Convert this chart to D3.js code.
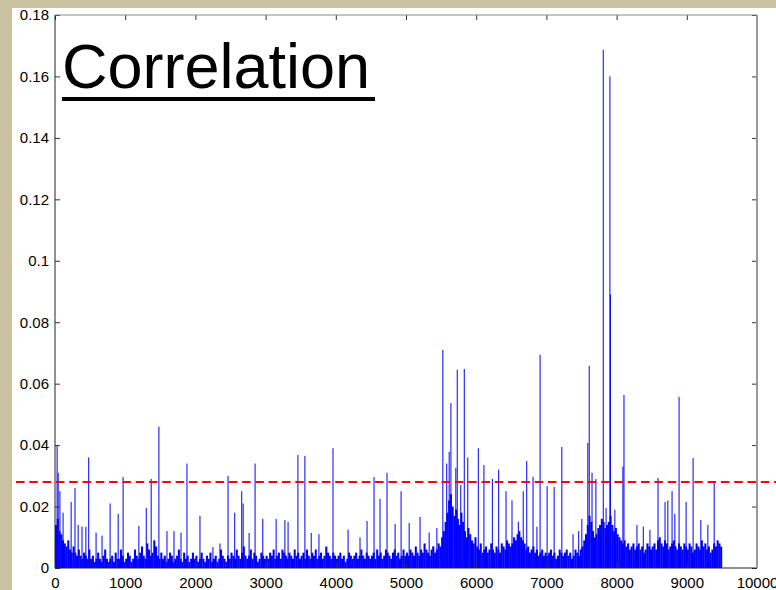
<!DOCTYPE html>
<html><head><meta charset="utf-8">
<script src="https://cdn.jsdelivr.net/npm/d3@7"></script>
<style>html,body{margin:0;padding:0;background:#c9c19f;overflow:hidden}</style>
</head><body>
<script>
// ---- data ----
const titleText = "Correlation";
const xTicks = [0,1000,2000,3000,4000,5000,6000,7000,8000,9000,10000];
const yTicks = [0,0.02,0.04,0.06,0.08,0.1,0.12,0.14,0.16,0.18];
const threshold = 0.028;
const baseStep = 25; // sample spacing of base values (x units)
const baseValues = [
0.014,0.016,0.012,0.011,0.009,0.008,0.007,0.009,0.006,0.005,0.007,0.005,0.004,0.006,0.004,0.003,0.005,0.004,0.003,0.006,
0.003,0.004,0.002,0.003,0.005,0.003,0.002,0.004,0.006,0.003,0.002,0.003,0.004,0.002,0.005,0.003,0.003,0.006,0.004,0.002,
0.003,0.005,0.004,0.002,0.003,0.006,0.004,0.003,0.005,0.007,0.004,0.003,0.008,0.006,0.004,0.005,0.009,0.007,0.004,0.003,
0.005,0.003,0.004,0.002,0.003,0.005,0.004,0.002,0.003,0.004,0.006,0.003,0.002,0.005,0.003,0.004,0.002,0.003,0.005,0.003,
0.004,0.002,0.003,0.005,0.003,0.002,0.004,0.003,0.005,0.002,0.003,0.004,0.002,0.003,0.006,0.004,0.003,0.002,0.004,0.003,
0.005,0.004,0.003,0.006,0.004,0.003,0.005,0.007,0.004,0.003,0.004,0.006,0.003,0.005,0.004,0.002,0.003,0.005,0.004,0.003,
0.004,0.003,0.005,0.004,0.006,0.003,0.004,0.005,0.003,0.006,0.005,0.004,0.003,0.005,0.004,0.003,0.006,0.004,0.005,0.003,
0.004,0.005,0.003,0.006,0.004,0.003,0.005,0.004,0.006,0.003,0.004,0.005,0.003,0.004,0.007,0.005,0.004,0.003,0.005,0.004,
0.003,0.004,0.005,0.003,0.004,0.002,0.003,0.005,0.004,0.003,0.004,0.005,0.003,0.004,0.006,0.004,0.003,0.005,0.004,0.003,
0.004,0.005,0.003,0.006,0.004,0.005,0.003,0.004,0.006,0.005,0.004,0.003,0.005,0.006,0.004,0.005,0.003,0.004,0.006,0.004,
0.005,0.004,0.006,0.005,0.004,0.007,0.005,0.004,0.006,0.005,0.008,0.006,0.005,0.004,0.006,0.007,0.005,0.006,0.008,0.007,
0.010,0.012,0.015,0.018,0.022,0.024,0.020,0.017,0.019,0.016,0.014,0.018,0.015,0.012,0.010,0.013,0.011,0.009,0.008,0.010,
0.007,0.006,0.008,0.005,0.006,0.007,0.005,0.006,0.008,0.006,0.005,0.007,0.006,0.005,0.008,0.007,0.006,0.009,0.008,0.007,
0.008,0.010,0.009,0.011,0.012,0.010,0.009,0.008,0.006,0.007,0.005,0.006,0.007,0.005,0.006,0.004,0.005,0.006,0.004,0.005,
0.004,0.005,0.006,0.004,0.005,0.003,0.004,0.006,0.005,0.004,0.005,0.006,0.004,0.005,0.003,0.004,0.006,0.005,0.004,0.006,
0.007,0.009,0.011,0.014,0.017,0.015,0.012,0.010,0.011,0.013,0.014,0.016,0.015,0.013,0.014,0.015,0.017,0.014,0.012,0.013,
0.011,0.010,0.009,0.008,0.009,0.007,0.008,0.006,0.007,0.008,0.006,0.007,0.008,0.006,0.007,0.005,0.006,0.008,0.007,0.006,
0.007,0.008,0.006,0.009,0.010,0.008,0.007,0.009,0.008,0.006,0.007,0.008,0.009,0.007,0.006,0.008,0.007,0.006,0.008,0.007,
0.006,0.008,0.007,0.005,0.006,0.008,0.007,0.006,0.009,0.007,0.008,0.006,0.007,0.005,0.006,0.008,0.007,0.009,0.008,0.007
];
const spikeX = [30,45,70,115,230,285,330,385,440,480,585,670,785,900,970,1195,1300,1370,1480,1595,1695,1795,1880,2065,2250,2350,
2465,2560,2660,2680,2765,2850,2960,3150,3275,3320,3460,3560,3650,3760,3960,4175,4345,4445,4545,4630,4730,4845,4930,5045,5200,
5330,5385,5440,5525,5580,5615,5640,5710,5730,5780,5830,5880,6030,6110,6230,6320,6425,6510,6600,6670,6720,6810,6865,6910,7010,
7110,7220,7380,7460,7505,7590,7610,7650,7705,7810,7850,7905,7912,7975,8090,8105,8290,8380,8475,8590,8690,8730,8790,8830,8890,
8990,9090,9200,9300,9390];
const spikeY = [0.040,0.031,0.025,0.018,0.0215,0.026,0.014,0.0135,0.0134,0.036,0.0115,0.0105,0.021,0.0176,0.0296,0.0137,0.0195,0.029,0.046,0.012,0.012,0.0115,0.034,0.017,0.0068,0.008,
0.030,0.018,0.025,0.021,0.0114,0.034,0.016,0.016,0.0156,0.015,0.0368,0.0365,0.0114,0.011,0.039,0.0125,0.010,0.0153,0.0296,0.0225,0.031,0.0143,0.025,0.0147,0.0166,
0.0115,0.007,0.013,0.071,0.034,0.0378,0.0537,0.0326,0.0645,0.027,0.0648,0.036,0.039,0.0335,0.029,0.032,0.025,0.022,0.015,0.025,0.0348,0.0297,0.0134,0.0694,0.0267,
0.0264,0.0394,0.011,0.012,0.016,0.0407,0.0658,0.031,0.029,0.1687,0.0195,0.160,0.089,0.019,0.033,0.0563,0.014,0.0135,0.0124,0.0293,0.0215,0.022,0.025,0.0176,0.0557,
0.0215,0.0358,0.0156,0.014,0.0283];

// ---- drawing ----
(function () {
const W = 776, H = 590;
const svg = d3.select("body").append("svg").attr("width", W).attr("height", H)
  .style("display","block").style("font-family","Arial, 'Liberation Sans', sans-serif");
svg.append("rect").attr("width", W).attr("height", H).attr("fill", "#c9c19f");
svg.append("rect").attr("x", 12).attr("y", 8).attr("width", W - 12).attr("height", H - 8).attr("fill", "#ffffff");

const mL = 55, mR = 757, mT = 15, mB = 568;
const x = d3.scaleLinear().domain([0, 10000]).range([mL, mR]);
const y = d3.scaleLinear().domain([0, 0.18]).range([mB, mT]);

const blue = "#0000ff";
const bw = x(baseStep) - x(0);
svg.append("g").selectAll("rect").data(baseValues).join("rect")
  .attr("x", (d, i) => x(i * baseStep))
  .attr("y", d => y(d))
  .attr("width", bw + 0.3)
  .attr("height", d => y(0) - y(d))
  .attr("fill", blue);

svg.append("g").selectAll("line").data(spikeX).join("line")
  .attr("x1", d => x(d)).attr("x2", d => x(d))
  .attr("y1", y(0)).attr("y2", (d, i) => y(spikeY[i]))
  .attr("stroke", blue).attr("stroke-width", 1);

// axes
const axB = svg.append("g").attr("transform", `translate(0,${mB})`)
  .call(d3.axisBottom(x).tickValues(xTicks).tickSize(-5).tickPadding(9).tickFormat(d3.format("d")));
const axT = svg.append("g").attr("transform", `translate(0,${mT})`)
  .call(d3.axisTop(x).tickValues(xTicks).tickSize(-5).tickFormat(""));
const axL = svg.append("g").attr("transform", `translate(${mL},0)`)
  .call(d3.axisLeft(y).tickValues(yTicks).tickSize(-5).tickPadding(6).tickFormat(d => d === 0 ? "0" : String(+d.toFixed(2))));
const axR = svg.append("g").attr("transform", `translate(${mR},0)`)
  .call(d3.axisRight(y).tickValues(yTicks).tickSize(-5).tickFormat(""));
[axB, axT, axL, axR].forEach(a => {
  a.select(".domain").remove();
  a.selectAll(".tick line").attr("stroke", "#333");
  a.selectAll("text").attr("font-size", 15).attr("fill", "#000")
    .style("font-family","Arial, 'Liberation Sans', sans-serif");
});
// box
svg.append("line").attr("x1", mL).attr("x2", mL).attr("y1", mT).attr("y2", mB).attr("stroke", "#222").attr("stroke-width", 1);
svg.append("line").attr("x1", mL).attr("x2", mR).attr("y1", mB).attr("y2", mB).attr("stroke", "#222").attr("stroke-width", 1.2);
svg.append("line").attr("x1", mL).attr("x2", mR).attr("y1", mT).attr("y2", mT).attr("stroke", "#888").attr("stroke-width", 1);
svg.append("line").attr("x1", mR).attr("x2", mR).attr("y1", mT).attr("y2", mB).attr("stroke", "#999").attr("stroke-width", 2);

// threshold line
svg.append("line").attr("x1", 16).attr("x2", W).attr("y1", y(threshold)).attr("y2", y(threshold))
  .attr("stroke", "#ff0000").attr("stroke-width", 2).attr("stroke-dasharray", "8.5,4.8");

// title
svg.append("text").attr("x", 62).attr("y", 88).attr("font-size", 63).attr("fill", "#000")
  .text(titleText);
svg.append("rect").attr("x", 62).attr("y", 97).attr("width", 313).attr("height", 4).attr("fill", "#000");
})();
</script>
</body></html>
